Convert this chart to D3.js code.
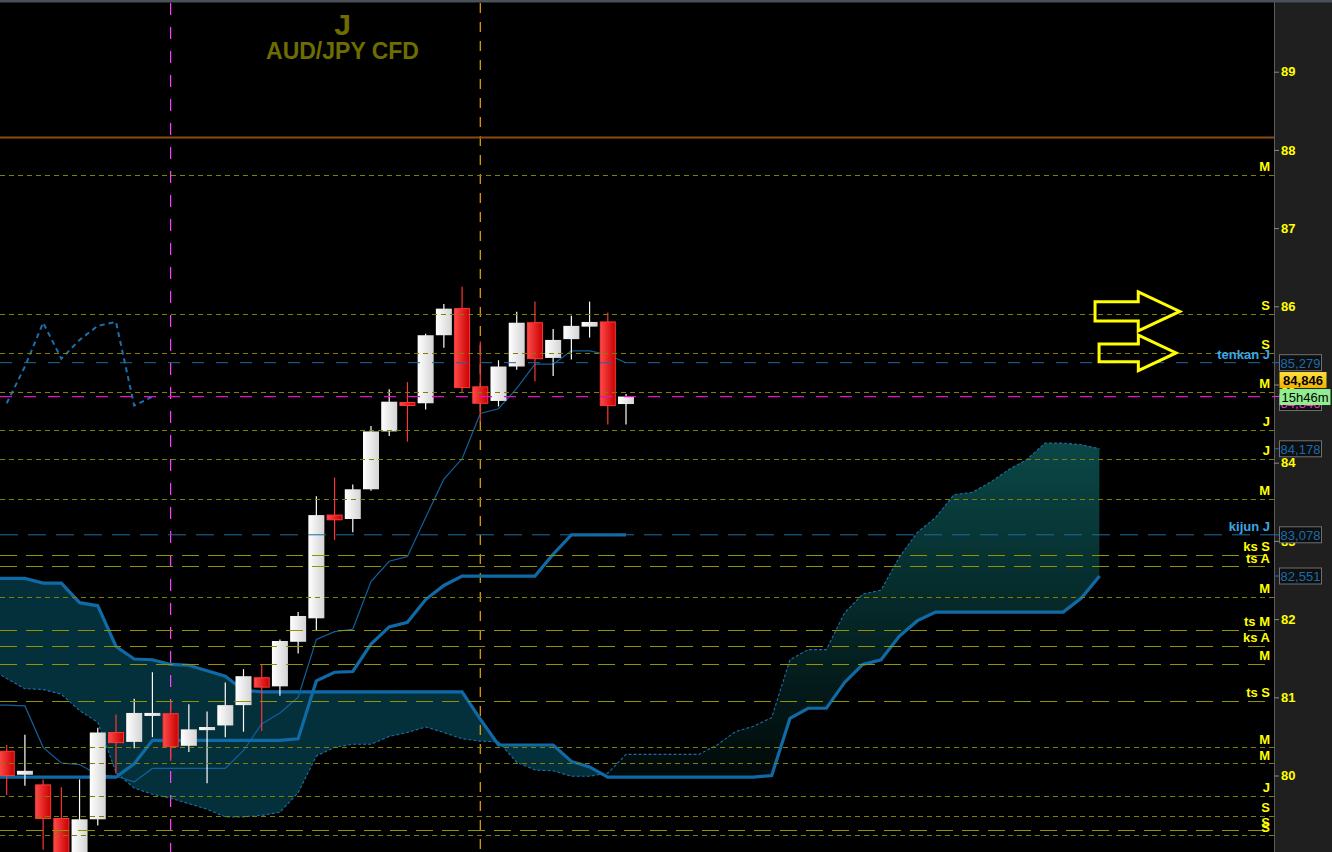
<!DOCTYPE html>
<html><head><meta charset="utf-8">
<script src="https://cdn.jsdelivr.net/npm/d3@7"></script>
<style>html,body{margin:0;padding:0;background:#000;overflow:hidden}</style>
</head><body><svg id="c" width="1332" height="852"></svg>
<script>
// ---------- DATA ----------
const opens  = [80.31,80.01,79.88,79.45,78.96,79.44,80.55,80.43,80.79,80.79,80.38,80.58,80.64,80.90,81.25,81.14,81.71,82.01,83.33,83.28,83.66,84.40,84.77,84.76,85.63,85.97,84.97,84.79,85.23,85.79,85.34,85.58,85.74,85.80,84.75];
const highs  = [80.39,80.52,79.95,79.85,79.95,80.61,80.78,80.98,81.32,80.94,80.91,80.82,81.19,81.36,81.42,81.74,82.09,83.57,83.81,83.72,84.47,84.94,85.03,85.65,86.03,86.25,85.55,85.31,85.93,86.06,85.71,85.88,86.06,85.92,84.88];
const lows   = [79.75,79.87,79.05,78.80,78.85,79.36,80.02,80.35,80.49,80.19,80.30,79.90,80.49,80.56,80.57,81.02,81.56,81.86,83.01,83.11,83.64,84.34,84.27,84.68,85.47,84.89,84.52,84.72,85.19,85.04,85.11,85.32,85.60,84.49,84.49];
const closes = [80.00,80.06,79.45,78.95,79.44,80.55,80.42,80.80,80.80,80.37,80.59,80.62,80.90,81.27,81.13,81.72,82.04,83.33,83.27,83.66,84.40,84.78,84.75,85.63,85.97,84.96,84.76,85.23,85.79,85.33,85.57,85.75,85.80,84.73,84.846];
// index -1 .. 34
const tenkan = [80.90,80.90,80.89,80.36,80.16,80.14,80.01,79.99,79.92,80.09,80.09,80.09,80.09,80.09,80.32,80.66,80.80,81.00,81.74,81.84,81.87,82.48,82.74,82.80,83.30,83.79,84.05,84.63,84.69,84.95,85.26,85.26,85.43,85.43,85.38,85.279];
const kijun  = [79.98,79.98,79.98,79.98,79.98,79.98,79.98,79.98,80.15,80.45,80.45,80.45,80.45,80.45,80.45,80.45,80.45,80.47,81.21,81.32,81.33,81.68,81.90,81.96,82.25,82.43,82.55,82.55,82.55,82.55,82.55,82.83,83.078,83.078,83.078,83.078];
// index -1 .. 60
const senkouA = [81.38,81.24,81.11,81.10,81.04,80.83,80.68,80.04,79.84,79.76,79.71,79.64,79.57,79.47,79.47,79.49,79.53,79.78,80.25,80.36,80.40,80.40,80.50,80.55,80.62,80.55,80.47,80.44,80.43,80.17,80.07,80.06,79.99,79.99,80.03,80.27,80.27,80.27,80.27,80.27,80.39,80.56,80.63,80.74,81.48,81.61,81.61,82.08,82.32,82.37,82.79,83.11,83.30,83.59,83.62,83.75,83.91,84.04,84.25,84.25,84.23,84.178];
const senkouB = [82.52,82.52,82.52,82.46,82.46,82.21,82.17,81.65,81.49,81.48,81.42,81.41,81.34,81.27,81.09,81.07,81.07,81.07,81.07,81.07,81.07,81.07,81.07,81.07,81.07,81.07,81.07,80.72,80.39,80.39,80.39,80.39,80.18,80.11,79.98,79.98,79.98,79.98,79.98,79.98,79.98,79.98,79.98,80.00,80.73,80.86,80.86,81.19,81.42,81.48,81.78,81.98,82.09,82.09,82.09,82.09,82.09,82.09,82.09,82.09,82.27,82.551];
// index 0 .. 8 (lagging span)
const chikou = [84.76,85.23,85.79,85.33,85.57,85.75,85.80,84.73,84.846];
const priceTicks = [80,81,82,83,84,85,86,87,88,89];
// level set 1 (short dashes)
const levelPrices1 = [87.681,85.906,85.407,84.906,84.420,84.050,83.539,82.287,80.359,80.154,79.741,79.485,79.235];
const levelLabels1 = ["M","S","S","M","J","J","M","M","M","M","J","S","S"];
// level set 2 (long dashes)
const levelPrices2 = [82.824,82.674,81.866,81.662,81.432,80.959,79.303];
const levelLabels2 = ["ks S","ts A","ts M","ks A","M","ts S","S"];
const resistance = 88.157;
const periodMarks = [9, 26];
const arrowFrom = [59.75, 59.97], arrowTo = [64.4, 64.2], arrowPrice = [85.935, 85.404];
const timerText = "15h46m";
const titleSymbol = "J", titleName = "AUD/JPY CFD";

// ---------- DRAW ----------
const W = 1332, H = 852, plotR = 1274;
const svg = d3.select('#c');
const x = d3.scaleLinear().domain([0, 60]).range([6.7, 1099.6]);
const y = d3.scaleLinear().domain([80, 89]).range([775.5, 71.7]);
const fmt = v => d3.format('.3f')(v).replace('.', ',');
const FONT = '"Liberation Sans", Arial, sans-serif';

svg.append('rect').attr('width', W).attr('height', H).attr('fill', '#000');
const defs = svg.append('defs');
defs.append('clipPath').attr('id', 'plot').append('rect').attr('x', 0).attr('y', 3).attr('width', plotR).attr('height', H - 3);

const gW = defs.append('linearGradient').attr('id', 'gw');
gW.append('stop').attr('offset', 0).attr('stop-color', '#ffffff');
gW.append('stop').attr('offset', 1).attr('stop-color', '#d4d4d4');
const gR = defs.append('linearGradient').attr('id', 'gr');
gR.append('stop').attr('offset', 0).attr('stop-color', '#ff4a4a');
gR.append('stop').attr('offset', 1).attr('stop-color', '#c80000');
const gC = defs.append('linearGradient').attr('id', 'gc').attr('gradientUnits', 'userSpaceOnUse')
  .attr('x1', 0).attr('x2', 0).attr('y1', y(84.3)).attr('y2', y(79.95));
gC.append('stop').attr('offset', 0).attr('stop-color', '#0b4848');
gC.append('stop').attr('offset', 1).attr('stop-color', '#010909');
const gY = defs.append('linearGradient').attr('id', 'gy').attr('x1', 0).attr('x2', 0).attr('y1', 0).attr('y2', 1);
gY.append('stop').attr('offset', 0).attr('stop-color', '#ffe040');
gY.append('stop').attr('offset', 1).attr('stop-color', '#f0b000');

const plot = svg.append('g').attr('clip-path', 'url(#plot)');

// cloud
const cloudPts = d3.range(-1, 61).map((i, k) => ({ i, a: senkouA[k], b: senkouB[k] }));
defs.append('clipPath').attr('id', 'aboveB').append('path')
  .attr('d', d3.area().x(d => x(d.i)).y0(0).y1(d => y(d.b))(cloudPts));
defs.append('clipPath').attr('id', 'belowB').append('path')
  .attr('d', d3.area().x(d => x(d.i)).y0(H).y1(d => y(d.b))(cloudPts));
const areaAB = d3.area().x(d => x(d.i)).y0(d => y(d.a)).y1(d => y(d.b));
plot.append('path').attr('d', areaAB(cloudPts)).attr('fill', 'url(#gc)').attr('clip-path', 'url(#aboveB)');
plot.append('path').attr('d', areaAB(cloudPts)).attr('fill', '#04303c').attr('clip-path', 'url(#belowB)');

// vertical period markers
const vColors = ['#ff44ff', '#f0a800'];
const vDash = ['12,12', '10,9'];
periodMarks.forEach((p, k) => {
  plot.append('line').attr('x1', x(p)).attr('x2', x(p)).attr('y1', 3).attr('y2', H)
    .attr('stroke', vColors[k]).attr('stroke-width', 1.2).attr('stroke-dasharray', vDash[k]);
});

// ichimoku lines
const line = d3.line().x(d => x(d.i)).y(d => y(d.v));
const toPts = (arr, start) => arr.map((v, k) => ({ i: k + start, v }));
plot.append('path').attr('d', line(toPts(senkouA, -1))).attr('fill', 'none')
  .attr('stroke', '#1b6fa8').attr('stroke-width', 1.1).attr('stroke-dasharray', '3,2');
plot.append('path').attr('d', line(toPts(senkouB, -1))).attr('fill', 'none')
  .attr('stroke', '#0f6aa6').attr('stroke-width', 3.2);
plot.append('path').attr('d', line(toPts(tenkan, -1))).attr('fill', 'none')
  .attr('stroke', '#12609a').attr('stroke-width', 1.2);
plot.append('path').attr('d', line(toPts(kijun, -1))).attr('fill', 'none')
  .attr('stroke', '#0f6aa6').attr('stroke-width', 3.2);
plot.append('path').attr('d', line(toPts(chikou, 0))).attr('fill', 'none')
  .attr('stroke', '#1a6fae').attr('stroke-width', 2).attr('stroke-dasharray', '5,4');

// candles
const cw = 16;
const cg = plot.append('g');
closes.forEach((c, i) => {
  const o = opens[i], up = c >= o;
  cg.append('line').attr('x1', x(i)).attr('x2', x(i)).attr('y1', y(highs[i])).attr('y2', y(lows[i]))
    .attr('stroke', up ? '#ffffff' : '#ff3535').attr('stroke-width', 1.2);
  const top = y(Math.max(o, c)), h = Math.max(3, Math.abs(y(o) - y(c)));
  cg.append('rect').attr('x', x(i) - cw / 2 + (up ? 0 : 0.5)).attr('y', top)
    .attr('width', up ? cw : cw - 1).attr('height', h)
    .attr('fill', up ? 'url(#gw)' : 'url(#gr)')
    .attr('stroke', up ? 'none' : '#ff3838').attr('stroke-width', 1);
});

// horizontal levels (over candles)
plot.append('line').attr('x1', 0).attr('x2', plotR).attr('y1', y(resistance)).attr('y2', y(resistance))
  .attr('stroke', '#8b4a12').attr('stroke-width', 2);
const lvl = svg.append('g');
function drawLevels(prices, labels, color, dash) {
  prices.forEach((p, k) => {
    plot.append('line').attr('x1', 0).attr('x2', plotR).attr('y1', Math.round(y(p)) + 0.5).attr('y2', Math.round(y(p)) + 0.5)
      .attr('stroke', color).attr('stroke-width', 1).attr('stroke-dasharray', dash);
    lvl.append('text').attr('x', 1270).attr('y', y(p) - 3.5).attr('text-anchor', 'end')
      .attr('fill', '#ffff00').style('font', `bold 13px ${FONT}`).text(labels[k]);
  });
}
drawLevels(levelPrices1, levelLabels1, '#808000', '5,4');
drawLevels(levelPrices2, levelLabels2, '#939300', '17,9');

const lastT = tenkan[tenkan.length - 1], lastK = kijun[kijun.length - 1];
const lastA = senkouA[senkouA.length - 1], lastB = senkouB[senkouB.length - 1];
const lastC = closes[closes.length - 1];
plot.append('line').attr('x1', 0).attr('x2', plotR).attr('y1', y(lastT)).attr('y2', y(lastT))
  .attr('stroke', '#1e6b9c').attr('stroke-width', 1).attr('stroke-dasharray', '12,12');
plot.append('line').attr('x1', 0).attr('x2', plotR).attr('y1', y(lastK)).attr('y2', y(lastK))
  .attr('stroke', '#1e6b9c').attr('stroke-width', 1).attr('stroke-dasharray', '18,10');
plot.append('line').attr('x1', 0).attr('x2', plotR).attr('y1', y(lastC)).attr('y2', y(lastC))
  .attr('stroke', '#e010c8').attr('stroke-width', 1.2).attr('stroke-dasharray', '12,12');
[['tenkan J', lastT], ['kijun J', lastK]].forEach(([t, v]) => {
  lvl.append('text').attr('x', 1270).attr('y', y(v) - 4).attr('text-anchor', 'end')
    .attr('fill', '#3aa8e6').style('font', `bold 13px ${FONT}`).text(t);
});

// arrows
arrowFrom.forEach((f, k) => {
  const x0 = x(f), x1 = x(arrowTo[k]), yc = y(arrowPrice[k]), L = x1 - x0;
  const hh = 0.23 * L, th = 0.115 * L, hx = x1 - 0.49 * L;
  svg.append('path')
    .attr('d', `M${x0},${yc - th}L${hx},${yc - th}L${hx},${yc - hh}L${x1},${yc}L${hx},${yc + hh}L${hx},${yc + th}L${x0},${yc + th}Z`)
    .attr('fill', 'none').attr('stroke', '#ffff00').attr('stroke-width', 3);
});

// title
svg.append('text').attr('x', 342.5).attr('y', 35).attr('text-anchor', 'middle')
  .attr('fill', '#6e6e00').style('font', `bold 30px ${FONT}`).text(titleSymbol);
svg.append('text').attr('x', 342.5).attr('y', 59).attr('text-anchor', 'middle')
  .attr('fill', '#6e6e00').style('font', `bold 23px ${FONT}`).text(titleName);

// right axis panel
svg.append('rect').attr('x', plotR).attr('y', 0).attr('width', W - plotR).attr('height', H).attr('fill', '#1f1f1f');
svg.append('line').attr('x1', plotR + 0.5).attr('x2', plotR + 0.5).attr('y1', 0).attr('y2', H).attr('stroke', '#5c5c5c');
const axisG = svg.append('g').attr('transform', `translate(${plotR},0)`)
  .call(d3.axisRight(y).tickValues(priceTicks).tickSize(5).tickPadding(2).tickFormat(d3.format('d')));
axisG.select('.domain').remove();
axisG.selectAll('line').attr('stroke', '#8a8a8a');
axisG.selectAll('text').attr('fill', '#ffff00').style('font', `bold 13px ${FONT}`);
svg.append('rect').attr('x', 0).attr('y', 0).attr('width', W).attr('height', 2.5).attr('fill', '#4b5158');

// value boxes
function box(v, cy, w, fill, stroke, color, text, bold) {
  svg.append('line').attr('x1', plotR).attr('x2', plotR + 5).attr('y1', y(v)).attr('y2', y(v)).attr('stroke', color);
  svg.append('rect').attr('x', plotR + 5.5).attr('y', cy - 8).attr('width', w).attr('height', 16)
    .attr('fill', fill).attr('stroke', stroke);
  svg.append('text').attr('x', plotR + 5.5 + w / 2).attr('y', cy + 5).attr('text-anchor', 'middle')
    .attr('fill', color).style('font', `${bold ? 'bold ' : ''}13px ${FONT}`).text(text);
}
[lastT, lastA, lastK, lastB].forEach(v => box(v, y(v), 42, '#0e0e0e', '#707070', '#1a6cad', fmt(v), false));
box(lastC, y(lastC) + 6, 42, '#0e0e0e', '#707070', '#ff30d0', fmt(lastC), false);
svg.append('rect').attr('x', plotR + 5.5).attr('y', y(lastC) - 7.5).attr('width', 51).attr('height', 16).attr('fill', '#90ee90');
svg.append('text').attr('x', plotR + 31).attr('y', y(lastC) + 5).attr('text-anchor', 'middle')
  .attr('fill', '#000').style('font', `13px ${FONT}`).text(timerText);
svg.append('rect').attr('x', plotR + 5.5).attr('y', y(lastC) - 24.5).attr('width', 47).attr('height', 16).attr('fill', 'url(#gy)');
svg.append('text').attr('x', plotR + 29).attr('y', y(lastC) - 11.5).attr('text-anchor', 'middle')
  .attr('fill', '#000').style('font', `bold 13px ${FONT}`).text(fmt(lastC));
</script>
</body></html>
